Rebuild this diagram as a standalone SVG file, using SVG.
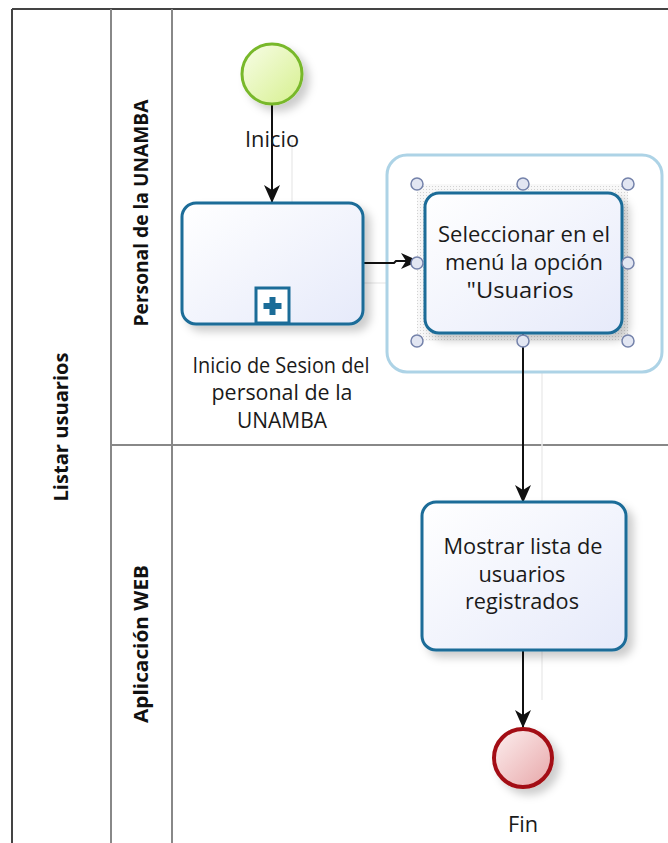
<svg xmlns="http://www.w3.org/2000/svg" width="668" height="843" viewBox="0 0 668 843">
<defs>
  <style>
    .lbl { font-family: "Open Sans", "Noto Sans", "DejaVu Sans", sans-serif; font-size: 21px; fill: #1a1a1a; text-anchor: middle; }
    .lane { font-family: "Open Sans", "Liberation Sans", sans-serif; font-size: 19px; font-weight: bold; fill: #111; text-anchor: middle; }
    .task { fill: url(#taskGrad); stroke: #1b6c98; stroke-width: 3; filter: url(#shadow); }
    .conn { fill: none; stroke: #111; stroke-width: 2; }
    .guide { stroke: #ececec; stroke-width: 1.5; fill: none; }
    .handle { fill: #e2e6f2; stroke: #7482aa; stroke-width: 1.5; }
    .border { stroke: #444; stroke-width: 2; fill: none; }
    .inner { stroke: #888; stroke-width: 2; fill: none; }
  </style>
  <linearGradient id="taskGrad" x1="0" y1="0" x2="1" y2="1">
    <stop offset="0" stop-color="#ffffff"/>
    <stop offset="1" stop-color="#e6eafa"/>
  </linearGradient>
  <linearGradient id="startGrad" x1="0" y1="0" x2="1" y2="1">
    <stop offset="0" stop-color="#f8fde8"/>
    <stop offset="1" stop-color="#d6f08e"/>
  </linearGradient>
  <linearGradient id="endGrad" x1="0" y1="0" x2="1" y2="1">
    <stop offset="0" stop-color="#fdf0f0"/>
    <stop offset="1" stop-color="#e7a6a8"/>
  </linearGradient>
  <filter id="shadow" x="-20%" y="-20%" width="150%" height="150%">
    <feDropShadow dx="6" dy="6" stdDeviation="4" flood-color="#000" flood-opacity="0.2"/>
  </filter>
  <pattern id="dots" width="3" height="3" patternUnits="userSpaceOnUse">
    <rect width="3" height="3" fill="#f8f8f8"/>
    <rect x="0" y="0" width="1" height="1" fill="#d2d2d2"/>
  </pattern>
  <marker id="arrow" viewBox="0 0 18 18" refX="17" refY="9" markerWidth="18" markerHeight="18" markerUnits="userSpaceOnUse" orient="auto">
    <path d="M0,1 L18,9 L0,17 L5,9 Z" fill="#111"/>
  </marker>
</defs>

<rect width="668" height="843" fill="#ffffff"/>

<!-- pool and lanes -->
<g id="pool">
  <line class="border" x1="12" y1="9" x2="668" y2="9"/>
  <line class="border" x1="12" y1="9" x2="12" y2="843"/>
  <line class="inner" x1="111" y1="9" x2="111" y2="843"/>
  <line class="inner" x1="172" y1="9" x2="172" y2="843"/>
  <line class="inner" x1="111" y1="445" x2="668" y2="445"/>
  <text class="lane" transform="translate(68,427) rotate(-90)" textLength="149" lengthAdjust="spacingAndGlyphs">Listar usuarios</text>
  <text class="lane" transform="translate(148,213) rotate(-90)" textLength="227" lengthAdjust="spacingAndGlyphs">Personal de la UNAMBA</text>
  <text class="lane" transform="translate(148,644) rotate(-90)" textLength="158" lengthAdjust="spacingAndGlyphs">Aplicación WEB</text>
</g>

<!-- faint alignment guides -->
<g id="guides">
  <line class="guide" x1="292" y1="140" x2="292" y2="202"/>
  <line class="guide" x1="363" y1="283" x2="420" y2="283"/>
  <line class="guide" x1="542" y1="345" x2="542" y2="700"/>
</g>

<!-- selection frame -->
<g id="selection">
  <rect x="387" y="155" width="275" height="217" rx="20" ry="20" fill="#ffffff" stroke="#add3e6" stroke-width="3"/>
  <rect x="417" y="184" width="211" height="157" fill="url(#dots)"/>
</g>

<!-- connectors -->
<g id="connectors">
  <line class="conn" x1="272" y1="105" x2="272" y2="202" marker-end="url(#arrow)"/>
  <polyline class="conn" points="363,263 394,263 396,261 418,261" marker-end="url(#arrow)"/>
  <line class="conn" x1="523" y1="333" x2="523" y2="502" marker-end="url(#arrow)"/>
  <line class="conn" x1="523" y1="650" x2="523" y2="727" marker-end="url(#arrow)"/>
</g>

<g id="start">
  <circle cx="272" cy="74" r="30" fill="url(#startGrad)" stroke="#78b82b" stroke-width="3" filter="url(#shadow)"/>
  <text class="lbl" x="272" y="147" textLength="54" lengthAdjust="spacingAndGlyphs">Inicio</text>
</g>

<g id="task-login">
  <rect class="task" x="182" y="203" width="181" height="121" rx="14" ry="14"/>
  <rect x="256" y="288" width="33" height="35" fill="#ffffff" stroke="#1b6c98" stroke-width="3"/>
  <path d="M269.5,297 h6 v6 h6 v6 h-6 v6 h-6 v-6 h-6 v-6 h6 z" fill="#1b6c98"/>
  <text class="lbl" x="281" y="373" textLength="177" lengthAdjust="spacingAndGlyphs">Inicio de Sesion del</text>
  <text class="lbl" x="282" y="400" textLength="141" lengthAdjust="spacingAndGlyphs">personal de la</text>
  <text class="lbl" x="282" y="428" textLength="90" lengthAdjust="spacingAndGlyphs">UNAMBA</text>
</g>

<g id="task-select">
  <rect class="task" x="425" y="193" width="197" height="140" rx="14" ry="14"/>
  <text class="lbl" x="524" y="242" textLength="172" lengthAdjust="spacingAndGlyphs">Seleccionar en el</text>
  <text class="lbl" x="524" y="270" textLength="158" lengthAdjust="spacingAndGlyphs">menú la opción</text>
  <text class="lbl" x="520" y="298" textLength="107" lengthAdjust="spacingAndGlyphs">"Usuarios</text>
  <circle class="handle" cx="417" cy="184" r="6"/>
  <circle class="handle" cx="523" cy="184" r="6"/>
  <circle class="handle" cx="628" cy="184" r="6"/>
  <circle class="handle" cx="417" cy="263" r="6"/>
  <circle class="handle" cx="628" cy="263" r="6"/>
  <circle class="handle" cx="417" cy="341" r="6"/>
  <circle class="handle" cx="523" cy="341" r="6"/>
  <circle class="handle" cx="628" cy="341" r="6"/>
</g>

<g id="task-list">
  <rect class="task" x="422" y="502" width="204" height="148" rx="14" ry="14"/>
  <text class="lbl" x="523" y="554" textLength="159" lengthAdjust="spacingAndGlyphs">Mostrar lista de</text>
  <text class="lbl" x="522" y="582" textLength="87" lengthAdjust="spacingAndGlyphs">usuarios</text>
  <text class="lbl" x="522" y="609" textLength="114" lengthAdjust="spacingAndGlyphs">registrados</text>
</g>

<g id="end">
  <circle cx="523" cy="758" r="29" fill="url(#endGrad)" stroke="#a30f12" stroke-width="4" filter="url(#shadow)"/>
  <text class="lbl" x="523" y="832" textLength="30" lengthAdjust="spacingAndGlyphs">Fin</text>
</g>
</svg>
